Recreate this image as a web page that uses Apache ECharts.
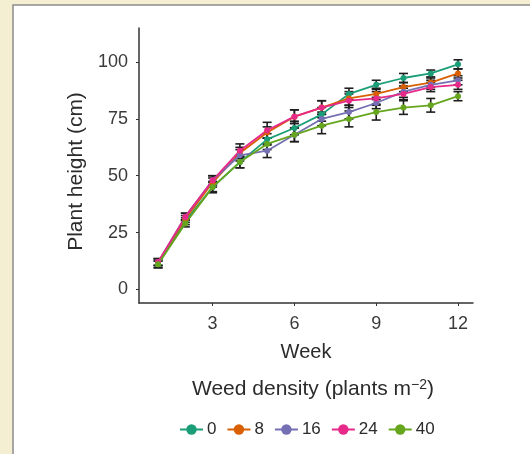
<!DOCTYPE html>
<html lang="en">
<head>
    <meta charset="UTF-8"/>
    <title>Plant height by weed density</title>
    <script src="https://cdn.jsdelivr.net/npm/echarts@6/dist/echarts.min.js"></script>
    <style>
        html, body { margin: 0; padding: 0; background: #f4eed3; }
    </style>
</head>
<body>

<div id="main" style="width:530px; height:454px;"></div>
<script type="text/javascript">

    // weeks after sowing
    var weeks = [1, 2, 3, 4, 5, 6, 7, 8, 9, 10, 11, 12];

    // weed density groups (plants m-2)
    var densities = ['0', '8', '16', '24', '40'];
    var colors = ['#1b9e77', '#d95f02', '#7570b3', '#e7298a', '#66a61e'];

    // mean plant height (cm)
    var height0  = [11, 30, 45, 56, 66, 71, 77, 86, 90, 93, 95, 99];
    var height8  = [12, 31, 47, 60, 69, 76, 80, 84, 86, 89, 91, 95];
    var height16 = [12, 32, 48, 59, 61, 68, 75, 78, 82, 87, 90, 92];
    var height24 = [12, 32, 48, 61, 70, 76, 80, 83, 84, 86, 89, 90];
    var height40 = [11, 29, 45, 56, 64, 68, 72, 75, 78, 80, 81, 85];

    // standard error (cm), estimated from the bars
    var err0  = [1.5, 1.5, 2, 2.5, 2.5, 3, 3, 2.5, 2, 2, 1.5, 2];
    var err8  = [1.5, 1.5, 2, 2.5, 2.5, 3, 3, 3, 2.5, 2, 2, 2];
    var err16 = [1.5, 1.5, 2, 2.5, 3, 3, 3, 3, 2.5, 2.5, 2, 2];
    var err24 = [1.5, 1.5, 2, 3, 3.5, 3, 3, 3, 3, 2.5, 2, 2];
    var err40 = [1.5, 1.5, 2.5, 2.5, 2.5, 3, 3.5, 3.5, 3.5, 3, 3, 2];

    var yTicks = [0, 25, 50, 75, 100];
    var xTicks = [3, 6, 9, 12];

    var heights = [height0, height8, height16, height24, height40];
    var errors = [err0, err8, err16, err24, err40];

    var font = "'Liberation Sans', Arial, sans-serif";

    var myChart = echarts.init(document.getElementById('main'));

    var series = [];
    // error bars first so the lines sit on top
    densities.forEach(function (d, k) {
        series.push({
            type: 'custom',
            name: d + ' err',
            silent: true,
            z: 1,
            data: weeks.map(function (w, i) {
                return [w, heights[k][i] - errors[k][i], heights[k][i] + errors[k][i]];
            }),
            renderItem: function (params, api) {
                var lo = api.coord([api.value(0), api.value(1)]);
                var hi = api.coord([api.value(0), api.value(2)]);
                var hw = 4.5;
                var st = { stroke: '#1e1e1e', lineWidth: 1.6 };
                return {
                    type: 'group',
                    children: [
                        { type: 'line', shape: { x1: lo[0], y1: lo[1], x2: hi[0], y2: hi[1] }, style: st },
                        { type: 'line', shape: { x1: lo[0] - hw, y1: lo[1], x2: lo[0] + hw, y2: lo[1] }, style: st },
                        { type: 'line', shape: { x1: hi[0] - hw, y1: hi[1], x2: hi[0] + hw, y2: hi[1] }, style: st }
                    ]
                };
            }
        });
    });
    densities.forEach(function (d, k) {
        series.push({
            type: 'line',
            name: d,
            z: 3,
            data: weeks.map(function (w, i) { return [w, heights[k][i]]; }),
            symbol: 'circle',
            symbolSize: 6,
            lineStyle: { width: 1.8, color: colors[k] },
            itemStyle: { color: colors[k] }
        });
    });

    var option = {
        animation: false,
        backgroundColor: 'transparent',
        graphic: [{
            type: 'rect',
            z: -10,
            shape: { x: 13, y: 5, width: 530, height: 460 },
            style: { fill: '#ffffff', stroke: '#8c8c8c', lineWidth: 1.5 }
        }],
        title: {
            text: 'Weed density (plants m{sup|\u22122})',
            left: 308,
            textAlign: 'center',
            top: 373,
            textStyle: {
                fontFamily: font,
                fontSize: 21,
                fontWeight: 'normal',
                color: '#2b2b2b',
                rich: {
                    sup: { fontFamily: font, fontSize: 14, color: '#2b2b2b', verticalAlign: 'top', padding: [0, 0, 9, 0] }
                }
            }
        },
        legend: {
            data: densities,
            left: 174,
            top: 416,
            itemWidth: 23,
            itemHeight: 13,
            itemGap: 10,
            textStyle: { fontFamily: font, fontSize: 17, color: '#2b2b2b', padding: [0, 0, 0, -1] }
        },
        grid: { left: 139, right: 57, top: 28, bottom: 151 },
        xAxis: {
            type: 'value',
            min: 0.3,
            max: 12.55,
            name: 'Week',
            nameLocation: 'middle',
            nameGap: 39,
            nameTextStyle: { fontFamily: font, fontSize: 20, color: '#2b2b2b' },
            axisLine: { onZero: false, lineStyle: { color: '#333', width: 1.5 } },
            axisTick: { show: true, length: 3, customValues: xTicks, lineStyle: { color: '#333' } },
            axisLabel: { customValues: xTicks, fontFamily: font, fontSize: 18, color: '#3a3a3a', margin: 12 },
            splitLine: { show: false }
        },
        yAxis: {
            type: 'value',
            min: -6,
            max: 115,
            name: 'Plant height (cm)',
            nameLocation: 'middle',
            nameGap: 52,
            nameTextStyle: { fontFamily: font, fontSize: 21, color: '#2b2b2b', padding: [0, 12, 0, 0] },
            axisLine: { show: true, onZero: false, lineStyle: { color: '#333', width: 1.5 } },
            axisTick: { show: true, length: 3, customValues: yTicks, lineStyle: { color: '#333' } },
            axisLabel: { customValues: yTicks, fontFamily: font, fontSize: 18, color: '#3a3a3a', margin: 11 },
            splitLine: { show: false }
        },
        series: series
    };

    myChart.setOption(option);
</script>

</body>
</html>
